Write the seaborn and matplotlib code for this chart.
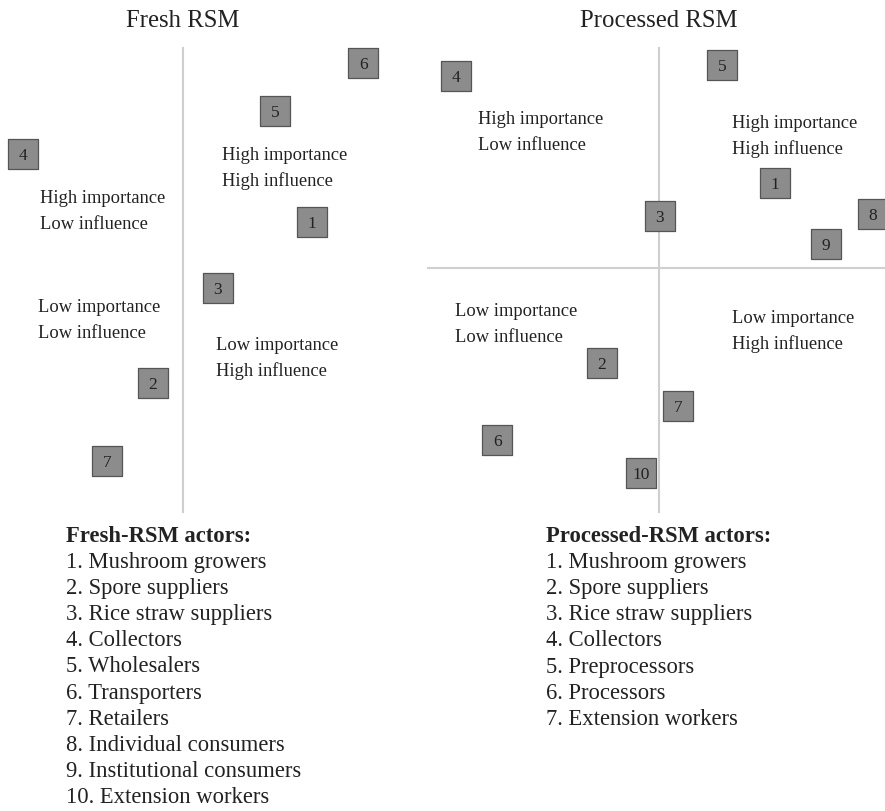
import pandas as pd
import matplotlib
matplotlib.use("Agg")
import matplotlib.pyplot as plt
import seaborn as sns

# Stakeholder positions (influence on x, importance on y)
fresh_ids = [1, 2, 3, 4, 5, 6, 7]
fresh_influence = [7.05, -1.64, 1.91, -8.74, 5.03, 9.84, -4.15]
fresh_importance = [2.49, -4.42, -0.34, 5.41, 7.25, 9.31, -7.77]

proc_ids = [1, 2, 3, 4, 5, 6, 7, 8, 9, 10]
proc_influence = [5.0, -2.46, 0.04, -8.75, 2.72, -6.98, 0.82, 9.22, 7.20, -0.78]
proc_importance = [3.66, -4.06, 2.25, 8.26, 8.73, -7.36, -5.90, 2.33, 1.05, -8.78]

fresh_actors = ["Mushroom growers", "Spore suppliers", "Rice straw suppliers",
                "Collectors", "Wholesalers", "Transporters", "Retailers",
                "Individual consumers", "Institutional consumers",
                "Extension workers"]
proc_actors = ["Mushroom growers", "Spore suppliers", "Rice straw suppliers",
               "Collectors", "Preprocessors", "Processors", "Extension workers"]

sns.set_style("white")
plt.rcParams['font.family'] = ['Liberation Serif', 'DejaVu Serif']

W, H = 885, 811
TXT = '#222222'
LINE = '#cfcfcf'
BOX = '#8c8c8c'
EDGE = '#555555'

fig = plt.figure(figsize=(W / 100, H / 100), dpi=100)


def px(x, y):
    # pixel position (from top-left) -> figure fraction
    return x / W, 1 - y / H


def panel(rect, ids, infl, imp, ylim, hline):
    l, t, w, h = rect
    ax = fig.add_axes([l / W, 1 - (t + h) / H, w / W, h / H])
    ax.set_xlim(-10, 10)
    ax.set_ylim(*ylim)
    ax.axis('off')
    ax.axvline(0, color=LINE, lw=1.5, zorder=1)
    if hline:
        ax.axhline(0, color=LINE, lw=1.5, zorder=1)
    df = pd.DataFrame({'influence': infl, 'importance': imp, 'id': ids})
    sns.scatterplot(data=df, x='influence', y='importance', marker='s', s=470,
                    color=BOX, edgecolor=EDGE, linewidth=0.9, ax=ax,
                    clip_on=False, zorder=3, legend=False)
    for _, r in df.iterrows():
        ax.text(r['influence'], r['importance'], str(int(r['id'])),
                ha='center', va='center_baseline', fontsize=12.5, color=TXT,
                zorder=4)
    return ax


panel((0, 47, 366, 466), fresh_ids, fresh_influence, fresh_importance,
      (-10, 10), False)
panel((427, 47, 464, 466), proc_ids, proc_influence, proc_importance,
      (-10.5, 9.5), True)

# Titles
fig.text(*px(183, 27), "Fresh RSM", ha='center', va='baseline',
         fontsize=17.8, color=TXT)
fig.text(*px(659, 27), "Processed RSM", ha='center', va='baseline',
         fontsize=17.8, color=TXT)

# Quadrant labels: (x, first baseline, line1, line2)
quad = [
    (222, 160, "High importance", "High influence"),
    (40, 203, "High importance", "Low influence"),
    (38, 312, "Low importance", "Low influence"),
    (216, 350, "Low importance", "High influence"),
    (478, 124, "High importance", "Low influence"),
    (732, 128, "High importance", "High influence"),
    (455, 316, "Low importance", "Low influence"),
    (732, 323, "Low importance", "High influence"),
]
for x, y, a, b in quad:
    fig.text(*px(x, y), a, ha='left', va='baseline', fontsize=13.3, color=TXT)
    fig.text(*px(x, y + 26), b, ha='left', va='baseline', fontsize=13.3,
             color=TXT)

# Actor lists
for x0, head, names in [(66, "Fresh-RSM actors:", fresh_actors),
                        (546, "Processed-RSM actors:", proc_actors)]:
    fig.text(*px(x0, 542), head, ha='left', va='baseline', fontsize=16.3,
             fontweight='bold', color=TXT)
    for i, n in enumerate(names):
        fig.text(*px(x0, 542 + 26.1 * (i + 1)), f"{i + 1}. {n}", ha='left',
                 va='baseline', fontsize=16.3, color=TXT)

fig.savefig("out.png", dpi=100)
